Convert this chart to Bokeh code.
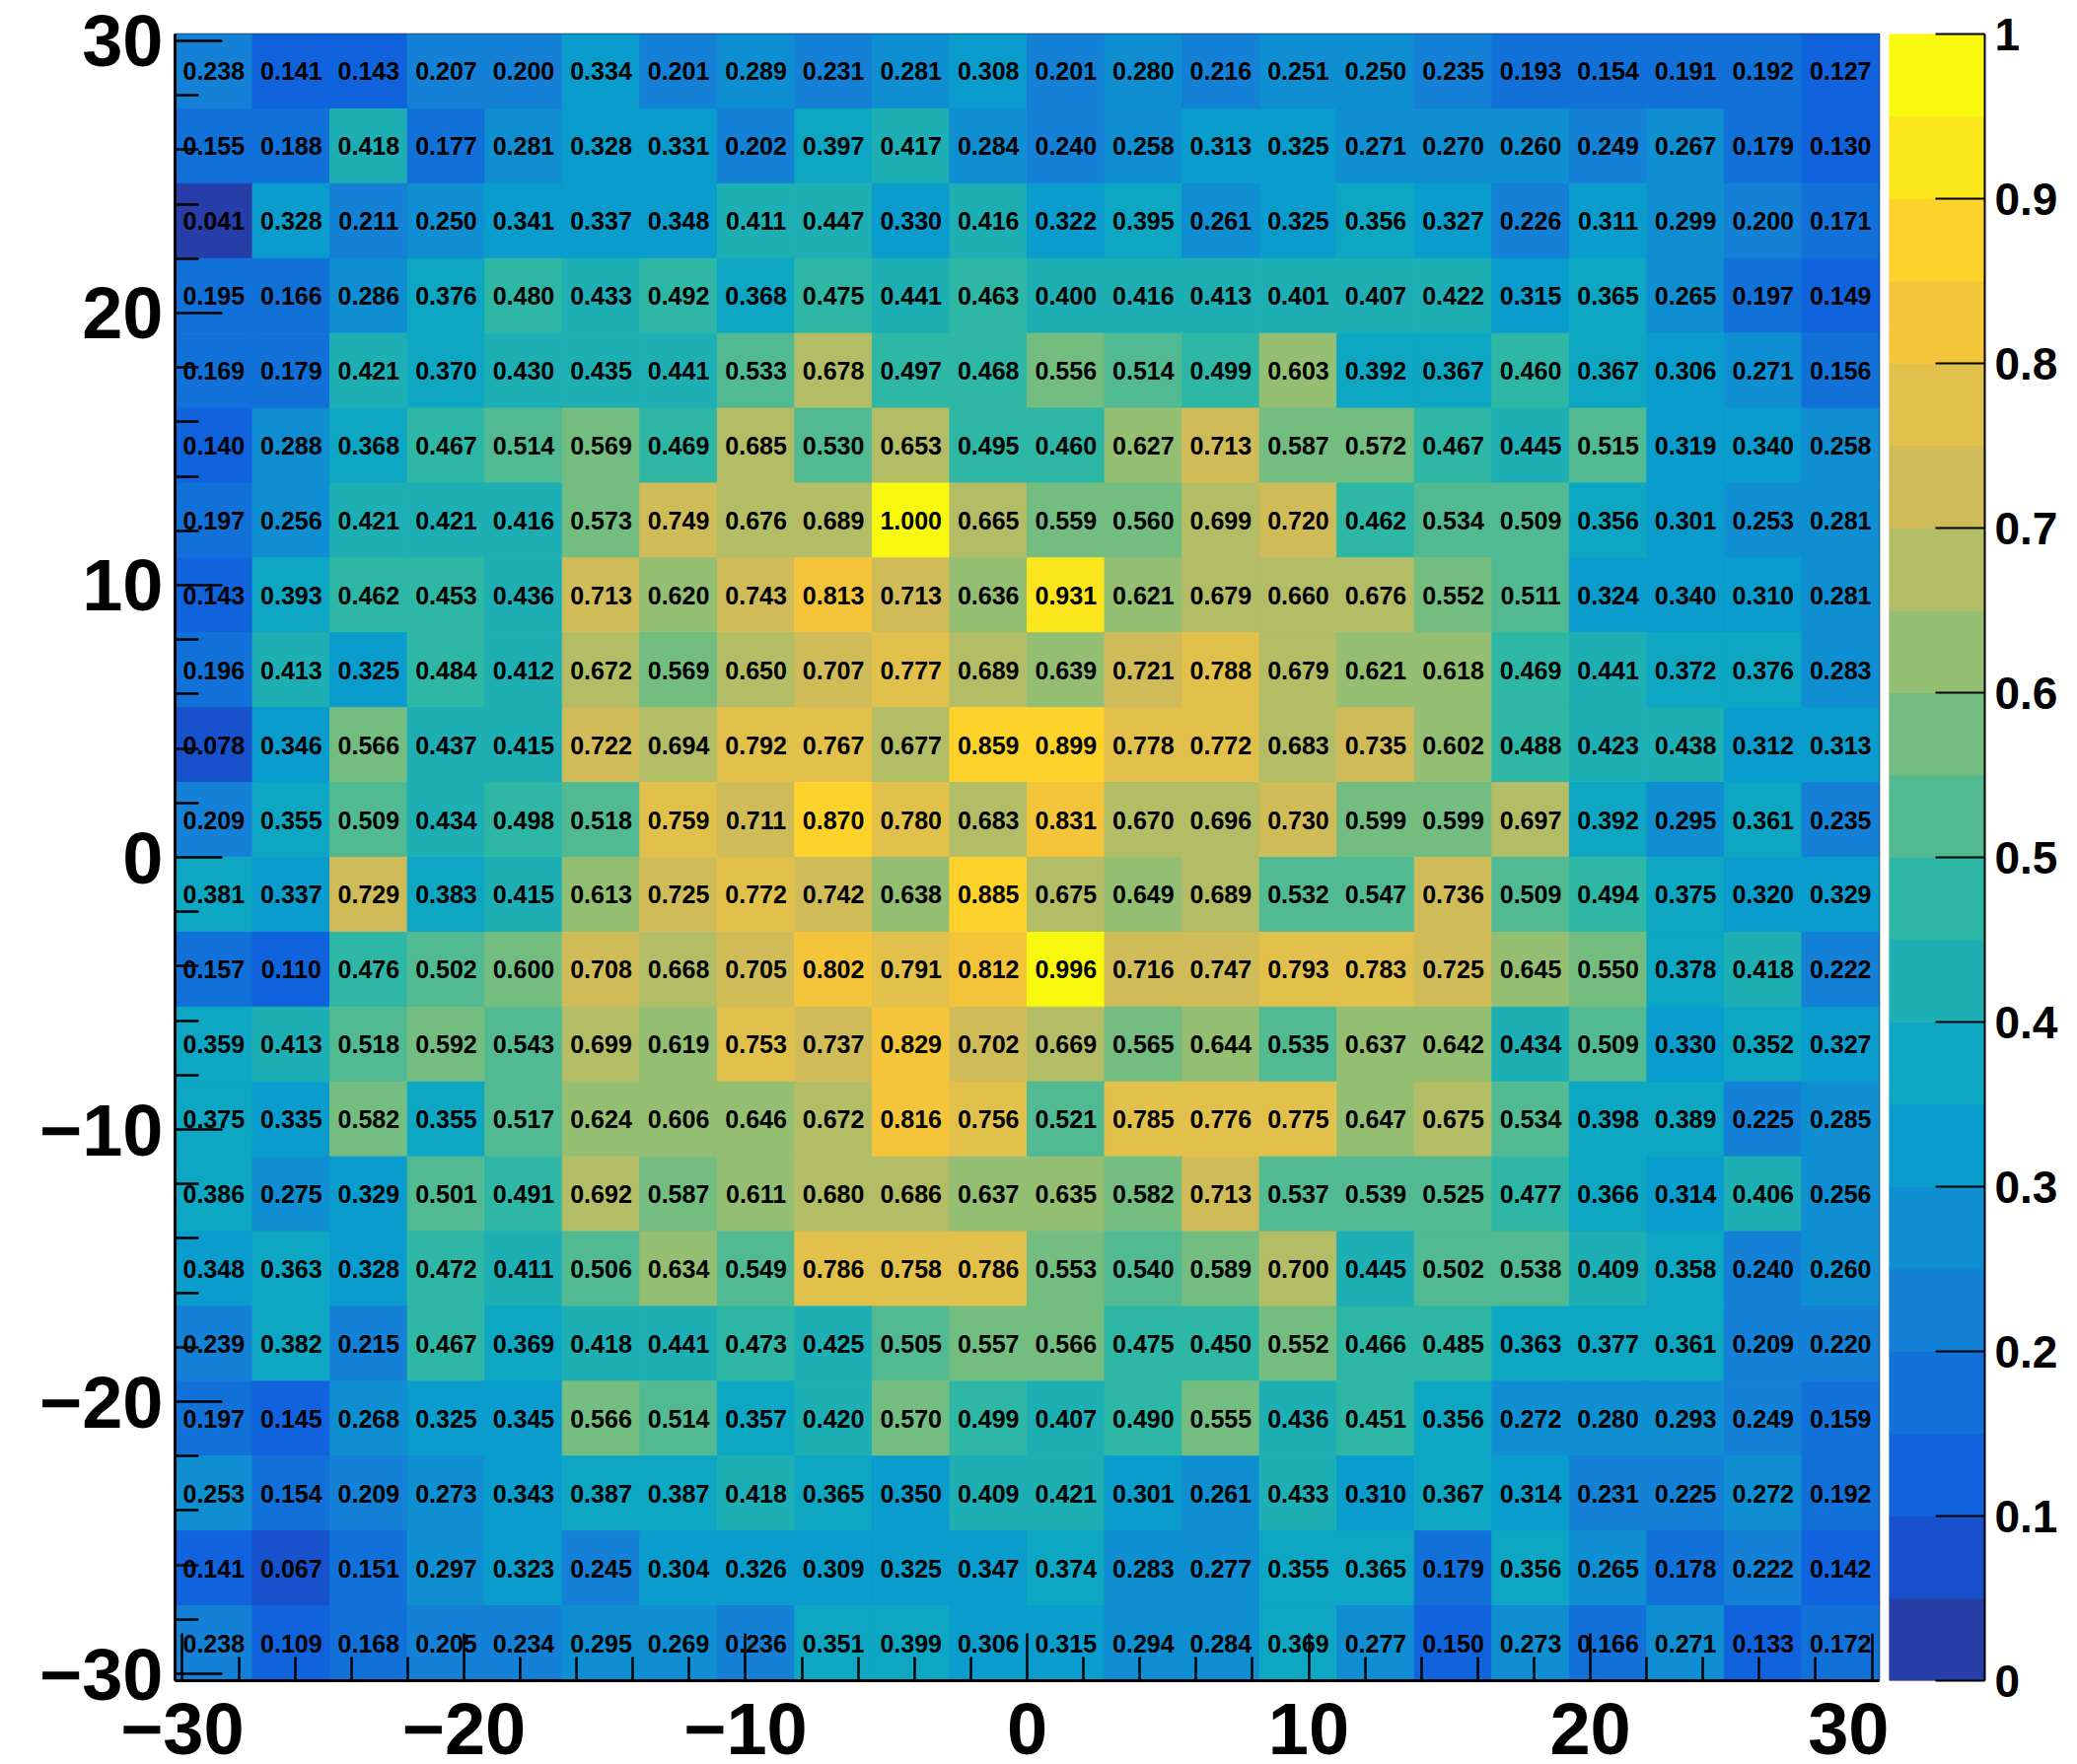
import numpy as np
from bokeh.plotting import figure
from bokeh.models import (Range1d, LinearAxis, FixedTicker, CustomJSTickFormatter,
                          LinearColorMapper, ColumnDataSource)
from bokeh.layouts import row
from bokeh.core.properties import value
from bokeh.embed import file_html
from bokeh.resources import INLINE

# ---------------- data ----------------
x_edges_min, x_edges_max, nx = -30.0, 30.0, 22
y_edges_min, y_edges_max, ny = -30.0, 30.0, 22

# rows listed from top (y = +30) to bottom (y = -30), columns left (x = -30) to right (x = +30)
row01 = [0.238, 0.141, 0.143, 0.207, 0.200, 0.334, 0.201, 0.289, 0.231, 0.281, 0.308, 0.201, 0.280, 0.216, 0.251, 0.250, 0.235, 0.193, 0.154, 0.191, 0.192, 0.127]
row02 = [0.155, 0.188, 0.418, 0.177, 0.281, 0.328, 0.331, 0.202, 0.397, 0.417, 0.284, 0.240, 0.258, 0.313, 0.325, 0.271, 0.270, 0.260, 0.249, 0.267, 0.179, 0.130]
row03 = [0.041, 0.328, 0.211, 0.250, 0.341, 0.337, 0.348, 0.411, 0.447, 0.330, 0.416, 0.322, 0.395, 0.261, 0.325, 0.356, 0.327, 0.226, 0.311, 0.299, 0.200, 0.171]
row04 = [0.195, 0.166, 0.286, 0.376, 0.480, 0.433, 0.492, 0.368, 0.475, 0.441, 0.463, 0.400, 0.416, 0.413, 0.401, 0.407, 0.422, 0.315, 0.365, 0.265, 0.197, 0.149]
row05 = [0.169, 0.179, 0.421, 0.370, 0.430, 0.435, 0.441, 0.533, 0.678, 0.497, 0.468, 0.556, 0.514, 0.499, 0.603, 0.392, 0.367, 0.460, 0.367, 0.306, 0.271, 0.156]
row06 = [0.140, 0.288, 0.368, 0.467, 0.514, 0.569, 0.469, 0.685, 0.530, 0.653, 0.495, 0.460, 0.627, 0.713, 0.587, 0.572, 0.467, 0.445, 0.515, 0.319, 0.340, 0.258]
row07 = [0.197, 0.256, 0.421, 0.421, 0.416, 0.573, 0.749, 0.676, 0.689, 1.000, 0.665, 0.559, 0.560, 0.699, 0.720, 0.462, 0.534, 0.509, 0.356, 0.301, 0.253, 0.281]
row08 = [0.143, 0.393, 0.462, 0.453, 0.436, 0.713, 0.620, 0.743, 0.813, 0.713, 0.636, 0.931, 0.621, 0.679, 0.660, 0.676, 0.552, 0.511, 0.324, 0.340, 0.310, 0.281]
row09 = [0.196, 0.413, 0.325, 0.484, 0.412, 0.672, 0.569, 0.650, 0.707, 0.777, 0.689, 0.639, 0.721, 0.788, 0.679, 0.621, 0.618, 0.469, 0.441, 0.372, 0.376, 0.283]
row10 = [0.078, 0.346, 0.566, 0.437, 0.415, 0.722, 0.694, 0.792, 0.767, 0.677, 0.859, 0.899, 0.778, 0.772, 0.683, 0.735, 0.602, 0.488, 0.423, 0.438, 0.312, 0.313]
row11 = [0.209, 0.355, 0.509, 0.434, 0.498, 0.518, 0.759, 0.711, 0.870, 0.780, 0.683, 0.831, 0.670, 0.696, 0.730, 0.599, 0.599, 0.697, 0.392, 0.295, 0.361, 0.235]
row12 = [0.381, 0.337, 0.729, 0.383, 0.415, 0.613, 0.725, 0.772, 0.742, 0.638, 0.885, 0.675, 0.649, 0.689, 0.532, 0.547, 0.736, 0.509, 0.494, 0.375, 0.320, 0.329]
row13 = [0.157, 0.110, 0.476, 0.502, 0.600, 0.708, 0.668, 0.705, 0.802, 0.791, 0.812, 0.996, 0.716, 0.747, 0.793, 0.783, 0.725, 0.645, 0.550, 0.378, 0.418, 0.222]
row14 = [0.359, 0.413, 0.518, 0.592, 0.543, 0.699, 0.619, 0.753, 0.737, 0.829, 0.702, 0.669, 0.565, 0.644, 0.535, 0.637, 0.642, 0.434, 0.509, 0.330, 0.352, 0.327]
row15 = [0.375, 0.335, 0.582, 0.355, 0.517, 0.624, 0.606, 0.646, 0.672, 0.816, 0.756, 0.521, 0.785, 0.776, 0.775, 0.647, 0.675, 0.534, 0.398, 0.389, 0.225, 0.285]
row16 = [0.386, 0.275, 0.329, 0.501, 0.491, 0.692, 0.587, 0.611, 0.680, 0.686, 0.637, 0.635, 0.582, 0.713, 0.537, 0.539, 0.525, 0.477, 0.366, 0.314, 0.406, 0.256]
row17 = [0.348, 0.363, 0.328, 0.472, 0.411, 0.506, 0.634, 0.549, 0.786, 0.758, 0.786, 0.553, 0.540, 0.589, 0.700, 0.445, 0.502, 0.538, 0.409, 0.358, 0.240, 0.260]
row18 = [0.239, 0.382, 0.215, 0.467, 0.369, 0.418, 0.441, 0.473, 0.425, 0.505, 0.557, 0.566, 0.475, 0.450, 0.552, 0.466, 0.485, 0.363, 0.377, 0.361, 0.209, 0.220]
row19 = [0.197, 0.145, 0.268, 0.325, 0.345, 0.566, 0.514, 0.357, 0.420, 0.570, 0.499, 0.407, 0.490, 0.555, 0.436, 0.451, 0.356, 0.272, 0.280, 0.293, 0.249, 0.159]
row20 = [0.253, 0.154, 0.209, 0.273, 0.343, 0.387, 0.387, 0.418, 0.365, 0.350, 0.409, 0.421, 0.301, 0.261, 0.433, 0.310, 0.367, 0.314, 0.231, 0.225, 0.272, 0.192]
row21 = [0.141, 0.067, 0.151, 0.297, 0.323, 0.245, 0.304, 0.326, 0.309, 0.325, 0.347, 0.374, 0.283, 0.277, 0.355, 0.365, 0.179, 0.356, 0.265, 0.178, 0.222, 0.142]
row22 = [0.238, 0.109, 0.168, 0.205, 0.234, 0.295, 0.269, 0.236, 0.351, 0.399, 0.306, 0.315, 0.294, 0.284, 0.369, 0.277, 0.150, 0.273, 0.166, 0.271, 0.133, 0.172]

axis_ticks = [-30, -20, -10, 0, 10, 20, 30]
axis_minor_ticks = [-28, -26, -24, -22, -18, -16, -14, -12, -8, -6, -4, -2,
                    2, 4, 6, 8, 12, 14, 16, 18, 22, 24, 26, 28]
z_min, z_max, n_levels = 0.0, 1.0, 20
cbar_ticks = [0.0, 0.1, 0.2, 0.3, 0.4, 0.5, 0.6, 0.7, 0.8, 0.9, 1.0]

# ---------------- palette (ROOT kBird, 20 contour levels) ----------------
bird_stops = [0.0000, 0.1250, 0.2500, 0.3750, 0.5000, 0.6250, 0.7500, 0.8750, 1.0000]
bird_r = [0.2082, 0.0592, 0.0780, 0.0232, 0.1802, 0.5301, 0.8186, 0.9956, 0.9764]
bird_g = [0.1664, 0.3599, 0.5041, 0.6419, 0.7178, 0.7492, 0.7328, 0.7862, 0.9832]
bird_b = [0.5293, 0.8684, 0.8385, 0.7914, 0.6425, 0.4662, 0.3499, 0.1968, 0.0539]
palette = []
for k in range(n_levels):
    idx = int((k + 0.99) * 255 / n_levels)
    t = idx / 255.0
    r = np.interp(t, bird_stops, bird_r)
    g = np.interp(t, bird_stops, bird_g)
    b = np.interp(t, bird_stops, bird_b)
    palette.append("#%02x%02x%02x" % (int(round(r * 255)), int(round(g * 255)), int(round(b * 255))))

mapper = LinearColorMapper(palette=palette, low=z_min, high=z_max)

# ---------------- cell table ----------------
rows_top_down = [row01, row02, row03, row04, row05, row06, row07, row08, row09, row10, row11,
                 row12, row13, row14, row15, row16, row17, row18, row19, row20, row21, row22]
dx = (x_edges_max - x_edges_min) / nx
dy = (y_edges_max - y_edges_min) / ny
xs, ys, zs, labels = [], [], [], []
for i, r in enumerate(rows_top_down):
    yc = y_edges_max - (i + 0.5) * dy
    for j, v in enumerate(r):
        xc = x_edges_min + (j + 0.5) * dx
        xs.append(xc); ys.append(yc); zs.append(v); labels.append("%.3f" % v)
src = ColumnDataSource(dict(x=xs, y=ys, z=zs, label=labels))

FONT = "Liberation Sans"

p = figure(x_range=Range1d(x_edges_min, x_edges_max), y_range=Range1d(y_edges_min, y_edges_max),
           frame_width=1728, frame_height=1670,
           min_border_left=177, min_border_top=34, min_border_right=10, min_border_bottom=80,
           x_axis_location=None, y_axis_location=None,
           toolbar_location=None, output_backend="svg", background_fill_color="white",
           border_fill_color="white")
p.grid.visible = False
p.outline_line_color = "#222222"
p.outline_line_width = 1.5

p.rect(x="x", y="y", width=dx, height=dy, source=src,
       fill_color={"field": "z", "transform": mapper},
       line_color={"field": "z", "transform": mapper}, line_width=1)
p.text(x="x", y="y", text="label", source=src, text_align="center", text_baseline="middle",
       text_font=value(FONT), text_font_style="bold", text_font_size="25px", text_color="black")

# axes slightly inset like the ROOT original
p.extra_x_ranges = {"ax": Range1d(-30.26, 30.26)}
p.extra_y_ranges = {"ay": Range1d(-30.25, 30.25)}

fmt = CustomJSTickFormatter(code="return (tick < 0 ? '\\u2212' : '') + Math.abs(tick).toString();")

def style_axis(ax):
    ax.ticker = FixedTicker(ticks=axis_ticks, minor_ticks=axis_minor_ticks)
    ax.formatter = fmt
    ax.axis_line_color = "black"
    ax.axis_line_width = 3
    ax.major_tick_in = 48
    ax.major_tick_out = 0
    ax.minor_tick_in = 24
    ax.minor_tick_out = 0
    ax.major_tick_line_width = 2.5
    ax.minor_tick_line_width = 2.5
    ax.major_tick_line_color = "black"
    ax.minor_tick_line_color = "black"
    ax.major_label_text_font = FONT
    ax.major_label_text_font_style = "bold"
    ax.major_label_text_font_size = "74px"
    ax.major_label_text_color = "black"

xax = LinearAxis(x_range_name="ax")
style_axis(xax)
xax.major_label_standoff = 22
p.add_layout(xax, "below")

yax = LinearAxis(y_range_name="ay")
style_axis(yax)
yax.major_label_standoff = 12
p.add_layout(yax, "left")

# ---------------- colour bar (separate small figure) ----------------
band_lo = [z_min + k * (z_max - z_min) / n_levels for k in range(n_levels)]
band_hi = [z_min + (k + 1) * (z_max - z_min) / n_levels for k in range(n_levels)]
cb_src = ColumnDataSource(dict(bottom=band_lo, top=band_hi, color=palette))

cb = figure(x_range=Range1d(0, 1), y_range=Range1d(z_min, z_max),
            frame_width=97, frame_height=1670,
            min_border_left=0, min_border_top=34, min_border_right=85, min_border_bottom=80,
            x_axis_location=None, y_axis_location=None,
            toolbar_location=None, output_backend="svg",
            background_fill_color="white", border_fill_color="white")
cb.grid.visible = False
cb.outline_line_color = None
cb.quad(left=0, right=1, bottom="bottom", top="top", fill_color="color", line_color="color",
        line_width=1, source=cb_src)
cax = LinearAxis()
cax.ticker = FixedTicker(ticks=cbar_ticks, minor_ticks=[])
cax.formatter = CustomJSTickFormatter(code="return (Math.round(tick*10)/10).toString();")
cax.axis_line_color = "black"
cax.axis_line_width = 2
cax.major_tick_in = 50
cax.major_tick_out = 0
cax.major_tick_line_width = 2
cax.major_tick_line_color = "black"
cax.minor_tick_line_color = None
cax.major_label_text_font = FONT
cax.major_label_text_font_style = "bold"
cax.major_label_text_font_size = "46px"
cax.major_label_text_color = "black"
cax.major_label_standoff = 10
cb.add_layout(cax, "right")

layout = row(p, cb, spacing=0)
open("out.html", "w").write(file_html(layout, INLINE))
